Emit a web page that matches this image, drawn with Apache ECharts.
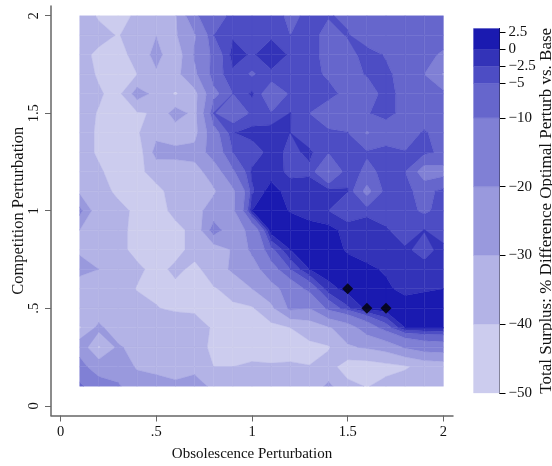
<!DOCTYPE html>
<html><head><meta charset="utf-8">
<style>html,body{margin:0;padding:0;background:#fff}#c{width:552px;height:466px}</style>
<script src="https://cdn.jsdelivr.net/npm/echarts@6/dist/echarts.min.js"></script>
</head><body><div id="c"></div>
<script>
const xValues = [0.1,0.2,0.3,0.4,0.5,0.6,0.7,0.8,0.9,1.0,1.1,1.2,1.3,1.4,1.5,1.6,1.7,1.8,1.9,2.0];
const yValues = [2.0,1.9,1.8,1.7,1.6,1.5,1.4,1.3,1.2,1.1,1.0,0.9,0.8,0.7,0.6,0.5,0.4,0.3,0.2,0.1];
const surplus = [
[-35,-41,-42,-39,-35,-31,-11,-6,-4.5,-3.8,-4,-5.5,-4.5,-4.8,-5.5,-6.5,-7,-7,-7,-7],
[-35,-37,-40.5,-36,-30.2,-31,-21,-5,-2.8,-4,-2.9,-5,-4,-6,-4.8,-6.5,-7,-7,-7,-7],
[-37,-42,-44,-36,-27,-36.4,-19,-8,-1.5,-2.8,-1,-2.8,-4,-6,-6,-4,-5.2,-7,-8,-11],
[-36,-41,-42,-40,-31.3,-33,-22,-7,-3,-5.5,-3,-4,-4,-5.5,-6,-4.8,-4.5,-6,-10,-21],
[-37,-39,-43,-25,-33.3,-41,-33,-12,-5,-2,-8.3,-4.5,-4,-4,-6,-6.5,-4,-6,-7.5,-7.5],
[-37,-40.5,-42,-41,-39,-25,-33,-4.8,-7.5,-4.5,-4.75,-2.4,-5,-7,-7,-5.2,-4,-6,-7.5,-7.5],
[-37,-41,-43,-41,-33,-36,-33,-13,-2.6,-1.5,-1,-2.5,-4.5,-4.5,-4.9,-10.5,-7,-7,-4.5,-7],
[-37,-41,-43,-46,-26,-27,-27,-15,-5,-4,-1.5,-3.1,-2,-4.7,-4.8,-4.5,-4,-4.8,-4,-6],
[-36,-39,-43,-42,-37,-35,-33,-26,-11,-2,-1.5,-3,-3,-10.5,-3,-6,-4,-5,-13,-12],
[-32,-38,-41,-43,-42,-37,-35,-31,-22,-3,1.5,-1.5,-1,-1.3,-2.4,-12,-3.5,-4,-6.5,-3.8],
[-17,-38,-38.5,-41,-43,-38,-33,-26,-22,0,1.5,-0.2,-1.5,-2.5,-4.5,-3.2,-4.5,-4,-5.5,-4],
[-30,-33,-37,-43,-43,-42,-38,-15,-27,-16,1.5,2,1.5,1,-1,-1,-2,-4.5,-2.4,-4.5],
[-32,-30.5,-37,-43,-42,-43,-37,-36,-29,-18,-6,0,1.5,2,-0.5,-1,-1.5,-2,-3.5,-1.5],
[-25,-30,-40,-38,-43,-38,-42,-36,-28,-25,-13,-5,0,1.5,2,0.5,-0.3,-1,-1.5,-1.5],
[-39,-35,-35,-40.5,-42,-42,-41,-40.5,-38,-30,-24,-15,-8,-1,1,2,0.5,-0.8,-0.3,0],
[-31,-38,-36,-36,-39.5,-42,-43,-43,-41,-41,-32,-18,-20,-8,-3,0.8,1.5,1.5,1.5,1.5],
[-41,-27,-38,-36,-36,-30.5,-32,-42,-44,-43,-43,-40,-36,-31,-25,-15,-7,0,0,0],
[-22,-41,-28,-35,-36,-36,-36,-42,-44,-44,-43,-42,-42,-40.8,-31,-29,-26,-19,-15,-14],
[-18,-23,-24,-31,-34,-34,-34,-40,-40,-38.5,-39.3,-39.3,-39.8,-36,-45,-45,-43,-41,-37,-36],
[-8,-17,-19,-25,-24,-28,-24,-33,-37,-37,-36,-36,-36,-28,-37,-40.5,-37,-35,-35,-35]
];
const levels = [-50,-40,-30,-20,-10,-5,-2.5,0,3];
const bandColors = ['#ccccee','#b3b3e6','#9999dd','#8080d5','#6666cc','#4d4dc4','#3333b8','#1a1ab0'];
const axisTicks = [0,0.5,1,1.5,2];
const barTicks = [2.5,0,-2.5,-5,-10,-20,-30,-40,-50];
const optima = [[1.5,0.6],[1.6,0.5],[1.7,0.5]];

const font = '"Liberation Serif","Times New Roman",serif';
const fmt = v => v === 0.5 ? '.5' : String(v);
const cells = [];
for (let r = 0; r < yValues.length - 1; r++)
  for (let c = 0; c < xValues.length - 1; c++) cells.push([c, r]);

function clip(poly, level, keepAbove) {
  const out = [];
  for (let k = 0; k < poly.length; k++) {
    const a = poly[k], b = poly[(k + 1) % poly.length];
    const ina = keepAbove ? a[2] >= level : a[2] <= level;
    const inb = keepAbove ? b[2] >= level : b[2] <= level;
    if (ina) out.push(a);
    if (ina !== inb) {
      const t = (level - a[2]) / (b[2] - a[2]);
      out.push([a[0] + t * (b[0] - a[0]), a[1] + t * (b[1] - a[1]), level]);
    }
  }
  return out;
}
function renderCell(params, api) {
  const c = api.value(0), r = api.value(1);
  const quad = [
    [xValues[c], yValues[r], surplus[r][c]],
    [xValues[c + 1], yValues[r], surplus[r][c + 1]],
    [xValues[c + 1], yValues[r + 1], surplus[r + 1][c + 1]],
    [xValues[c], yValues[r + 1], surplus[r + 1][c]]
  ];
  const children = [];
  bandColors.forEach((color, b) => {
    let p = clip(quad, levels[b], true);
    if (p.length) p = clip(p, levels[b + 1], false);
    if (p.length > 2) children.push({
      type: 'polygon',
      shape: { points: p.map(q => api.coord([q[0], q[1]])) },
      style: { fill: color, stroke: color, lineWidth: 0.4 }
    });
  });
  return { type: 'group', children };
}
function renderBand(params, api) {
  const b = api.value(0);
  const p0 = api.coord([0, levels[b + 1]]), p1 = api.coord([1, levels[b]]);
  return { type: 'rect',
    shape: { x: p0[0], y: p0[1], width: p1[0] - p0[0], height: p1[1] - p0[1] },
    style: { fill: bandColors[b], stroke: bandColors[b], lineWidth: 0.3 } };
}
const axisCommon = {
  min: -0.05, max: 2.05, type: 'value', nameLocation: 'middle', splitLine: { show: false },
  axisLine: { onZero: false, lineStyle: { color: '#666', width: 1.5 } },
  axisTick: { customValues: axisTicks, length: 6, lineStyle: { color: '#666', width: 1 } },
  nameTextStyle: { fontFamily: font, fontSize: 15, color: '#111' }
};
const chart = echarts.init(document.getElementById('c'), null, { renderer: 'canvas' });
chart.setOption({
  animation: false, backgroundColor: '#fff',
  grid: [
    { left: 51, top: 6, width: 402, height: 409.5, outerBoundsMode: 'none' },
    { left: 473.5, top: 28.5, width: 26, height: 364.5, outerBoundsMode: 'none' }
  ],
  xAxis: [
    Object.assign({}, axisCommon, { gridIndex: 0, name: 'Obsolescence Perturbation', nameGap: 31,
      axisLabel: { customValues: axisTicks, formatter: fmt, fontFamily: font, fontSize: 14.5, color: '#111', margin: 9 } }),
    { gridIndex: 1, type: 'value', min: 0, max: 1, show: false }
  ],
  yAxis: [
    Object.assign({}, axisCommon, { gridIndex: 0, name: 'Competition Perturbation', nameGap: 24, nameMoveOverlap: false,
      nameTextStyle: { fontFamily: font, fontSize: 16.5, color: '#111' },
      axisLabel: { customValues: axisTicks, formatter: fmt, fontFamily: font, fontSize: 14.5, color: '#111', rotate: 90, margin: 9 } }),
    { gridIndex: 1, type: 'value', min: -50, max: 3, position: 'right', name: 'Total Surplus: % Difference Optimal Perturb vs. Base',
      nameLocation: 'middle', nameGap: 39, nameRotate: 90, nameMoveOverlap: false,
      nameTextStyle: { fontFamily: font, fontSize: 17, color: '#111' },
      splitLine: { show: false },
      axisLine: { show: true, onZero: false, lineStyle: { color: '#000', width: 1 } },
      axisTick: { show: true, customValues: barTicks, length: 6, lineStyle: { color: '#000', width: 1 } },
      axisLabel: { customValues: barTicks, margin: 9, fontFamily: font, fontSize: 15, color: '#111',
        formatter: v => String(v).replace('-', '\u2212') } }
  ],
  series: [
    { type: 'custom', xAxisIndex: 0, yAxisIndex: 0, data: cells, renderItem: renderCell, clip: true, silent: true },
    { type: 'scatter', xAxisIndex: 0, yAxisIndex: 0, data: optima, symbol: 'diamond', symbolSize: 11, itemStyle: { color: '#000' }, z: 5 },
    { type: 'custom', xAxisIndex: 1, yAxisIndex: 1, data: bandColors.map((_, i) => [i]), renderItem: renderBand, silent: true }
  ]
});
</script></body></html>
